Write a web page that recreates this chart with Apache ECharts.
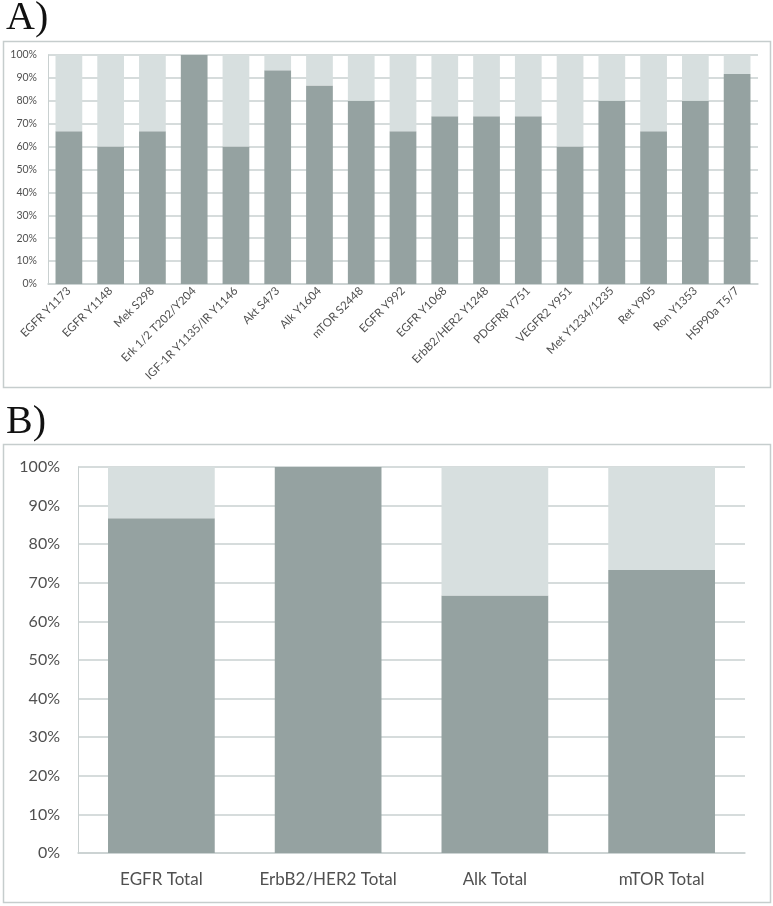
<!DOCTYPE html>
<html><head><meta charset="utf-8">
<script src="https://cdn.jsdelivr.net/npm/echarts@6/dist/echarts.min.js"></script>
<style>html,body{margin:0;padding:0;background:#fff}#c{width:773px;height:906px}</style>
</head><body><div id="c"></div>
<script>
const catsA = ['EGFR Y1173','EGFR Y1148','Mek S298','Erk 1/2 T202/Y204','IGF-1R Y1135/IR Y1146','Akt S473','Alk Y1604','mTOR S2448','EGFR Y992','EGFR Y1068','ErbB2/HER2 Y1248','PDGFRβ Y751','VEGFR2 Y951','Met Y1234/1235','Ret Y905','Ron Y1353','HSP90a T5/7'];
const darkA = [66.7,60,66.7,100,60,93.3,86.7,80,66.7,73.3,73.3,73.3,60,80,66.7,80,91.7];
const lightA = [33.3,40,33.3,0,40,6.7,13.3,20,33.3,26.7,26.7,26.7,40,20,33.3,20,8.3];
const catsB = ['EGFR Total','ErbB2/HER2 Total','Alk Total','mTOR Total'];
const darkB = [86.7,100,66.7,73.3];
const lightB = [13.3,0,33.3,26.7];
const yTicks = [0,10,20,30,40,50,60,70,80,90,100];

const DARK = '#95a2a1', LIGHT = '#d7dfdf', GRID = '#c9d0d0', TXT = '#505050';
const FONT = 'Lato, "Open Sans", sans-serif';
const chart = echarts.init(document.getElementById('c'));
function yAxis(idx, fs, margin){
  return {gridIndex: idx, type:'value', min: yTicks[0], max: yTicks[yTicks.length-1], interval: yTicks[1]-yTicks[0],
    axisLabel:{formatter:'{value}%', fontSize: fs, color: TXT, fontFamily: FONT, margin: margin},
    axisLine:{show:true, lineStyle:{color:GRID}}, axisTick:{show:false},
    splitLine:{lineStyle:{color:GRID, width:1.5}}};
}
chart.setOption({
  animation:false,
  graphic:[
    {type:'rect', shape:{x:3.5,y:41.5,width:767,height:346}, style:{fill:'none', stroke:'#c6cdcd', lineWidth:1.5}},
    {type:'rect', shape:{x:3.5,y:444.5,width:767,height:458}, style:{fill:'none', stroke:'#c6cdcd', lineWidth:1.5}},
    {type:'text', left:6, top:-2, style:{text:'A)', font:'40px "Liberation Serif", serif', fill:'#111'}},
    {type:'text', left:6, top:402, style:{text:'B)', font:'40px "Liberation Serif", serif', fill:'#111'}}
  ],
  grid:[
    {left:48, right:15, top:55, height:229},
    {left:78, right:28, top:467, height:386}
  ],
  xAxis:[
    {gridIndex:0, type:'category', data:catsA,
      axisLabel:{rotate:45, fontSize:11.5, color:TXT, fontFamily:FONT, interval:0, margin:5},
      axisLine:{lineStyle:{color:GRID, width:1.5}}, axisTick:{show:false}},
    {gridIndex:1, type:'category', data:catsB,
      axisLabel:{fontSize:17, color:TXT, fontFamily:FONT, interval:0, margin:18},
      axisLine:{lineStyle:{color:GRID, width:1.5}}, axisTick:{show:false}}
  ],
  yAxis:[yAxis(0, 10.5, 11), yAxis(1, 16, 18)],
  series:[
    {type:'bar', xAxisIndex:0, yAxisIndex:0, stack:'a', data:darkA, barWidth:'64%', itemStyle:{color:DARK}},
    {type:'bar', xAxisIndex:0, yAxisIndex:0, stack:'a', data:lightA, barWidth:'64%', itemStyle:{color:LIGHT}},
    {type:'bar', xAxisIndex:1, yAxisIndex:1, stack:'b', data:darkB, barWidth:'64%', itemStyle:{color:DARK}},
    {type:'bar', xAxisIndex:1, yAxisIndex:1, stack:'b', data:lightB, barWidth:'64%', itemStyle:{color:LIGHT}}
  ]
});
</script></body></html>
